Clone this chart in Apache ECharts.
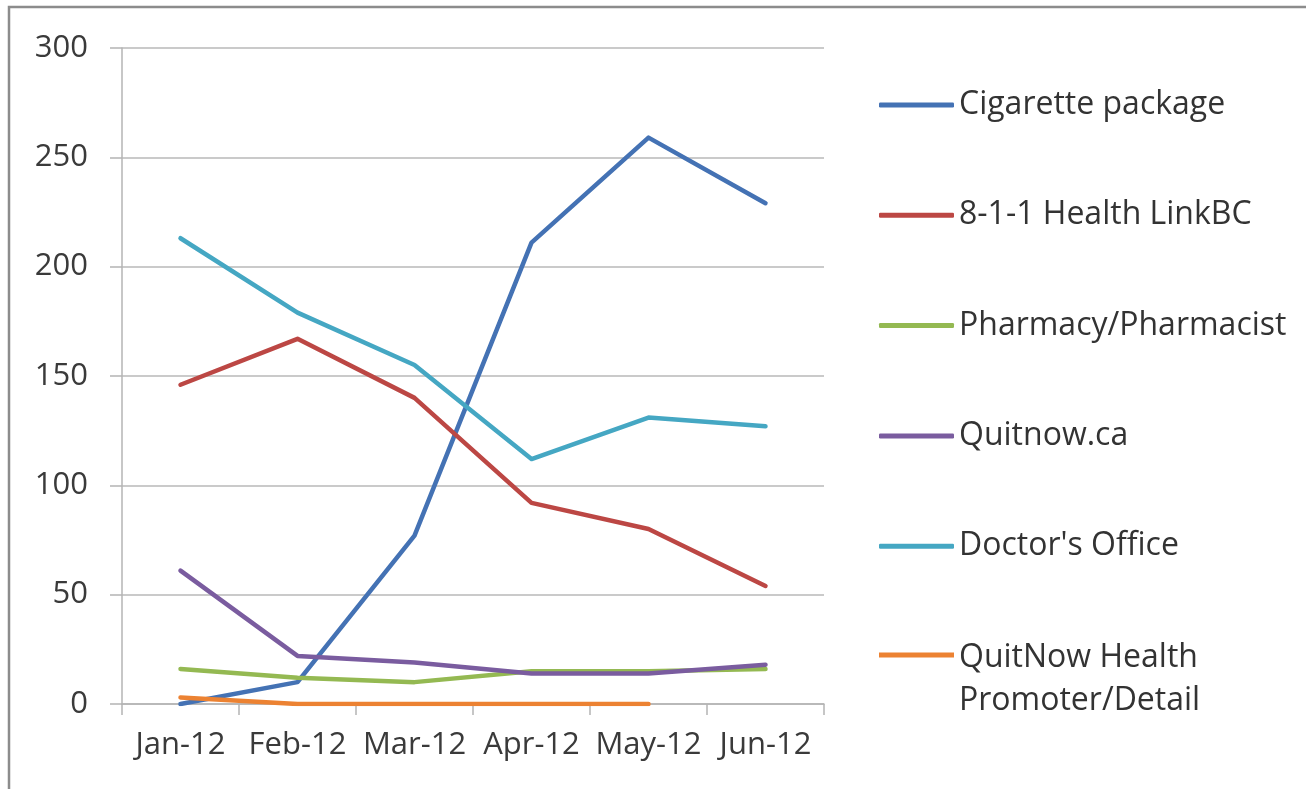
<!DOCTYPE html>
<html>
<head>
<meta charset="utf-8">
<script src="https://cdn.jsdelivr.net/npm/echarts@6/dist/echarts.min.js"></script>
<style>
  html, body { margin: 0; padding: 0; background: #fff; }
  #chart { width: 1306px; height: 789px; }
</style>
</head>
<body>
<div id="chart"></div>
<script>
// Months on the category axis
const months = ['Jan-12', 'Feb-12', 'Mar-12', 'Apr-12', 'May-12', 'Jun-12'];

// Referral counts per source
const cigarettePackage = [0, 10, 77, 211, 259, 229];
const healthLinkBC = [146, 167, 140, 92, 80, 54];
const pharmacy = [16, 12, 10, 15, 15, 16];
const quitnowCa = [61, 22, 19, 14, 14, 18];
const doctorsOffice = [213, 179, 155, 112, 131, 127];
const healthPromoter = [3, 0, 0, 0, 0, null];

// Y-axis tick labels
const yTicks = [0, 50, 100, 150, 200, 250, 300];

const seriesDefs = [
  { name: 'Cigarette package', data: cigarettePackage, color: '#4472B4' },
  { name: '8-1-1 Health LinkBC', data: healthLinkBC, color: '#BC4744' },
  { name: 'Pharmacy/Pharmacist', data: pharmacy, color: '#94B952' },
  { name: 'Quitnow.ca', data: quitnowCa, color: '#7A5C9F' },
  { name: "Doctor's Office", data: doctorsOffice, color: '#45A7C3' },
  { name: 'QuitNow Health Promoter/Detail', data: healthPromoter, color: '#EC8232' }
];

const font = '"Open Sans", Lato, sans-serif';
const textColor = '#3a3a3a';

// Legend swatch for the two-line entry: the visible bar sits at the top of a
// taller (otherwise empty) box so it lines up with the first text line.
const topBarIcon = 'path://M0,0L75,0L75,5L0,5Z M0,53L0.001,53';

const chart = echarts.init(document.getElementById('chart'), null, { renderer: 'canvas' });

chart.setOption({
  backgroundColor: '#ffffff',
  animation: false,
  grid: { left: 122, right: 482, top: 48, bottom: 85, containLabel: false },
  xAxis: {
    type: 'category',
    data: months,
    boundaryGap: true,
    axisLine: { show: true, lineStyle: { color: '#b4b4b4', width: 1.5 } },
    axisTick: { show: true, alignWithLabel: false, length: 11, lineStyle: { color: '#b4b4b4', width: 1.5 } },
    axisLabel: { interval: 0, color: textColor, fontFamily: font, fontSize: 31, margin: 26 },
    splitLine: { show: false }
  },
  yAxis: {
    type: 'value',
    min: yTicks[0],
    max: yTicks[yTicks.length - 1],
    interval: yTicks[1] - yTicks[0],
    axisLine: { show: true, lineStyle: { color: '#b4b4b4', width: 1.5 } },
    axisTick: { show: true, length: 12, lineStyle: { color: '#b4b4b4', width: 1.5 } },
    axisLabel: { color: textColor, fontFamily: font, fontSize: 31, margin: 34 },
    splitLine: { show: true, lineStyle: { color: '#b8b8b8', width: 1.5 } }
  },
  legend: [
    {
      orient: 'vertical',
      left: 879,
      top: 88,
      padding: 0,
      itemWidth: 75,
      itemHeight: 5,
      itemGap: 76.3,
      icon: 'roundRect',
      selectedMode: false,
      textStyle: { color: '#333333', fontFamily: font, fontSize: 32, lineHeight: 34 },
      data: seriesDefs.slice(0, 5).map(s => s.name)
    },
    {
      orient: 'vertical',
      left: 879,
      top: 636,
      padding: 0,
      itemWidth: 75,
      itemHeight: 53,
      icon: topBarIcon,
      selectedMode: false,
      formatter: () => 'QuitNow Health\nPromoter/Detail',
      textStyle: { color: '#333333', fontFamily: font, fontSize: 32, lineHeight: 43 },
      data: [seriesDefs[5].name]
    }
  ],
  graphic: [
    {
      type: 'rect',
      silent: true,
      shape: { x: 9, y: 7, width: 1320, height: 800 },
      style: { fill: 'none', stroke: '#8c8c8c', lineWidth: 2.5 }
    }
  ],
  series: seriesDefs.map(s => ({
    name: s.name,
    type: 'line',
    data: s.data,
    color: s.color,
    showSymbol: false,
    symbol: 'none',
    smooth: false,
    lineStyle: { width: 4.5, color: s.color, cap: 'round', join: 'round' },
    emphasis: { disabled: true }
  }))
});
</script>
</body>
</html>
